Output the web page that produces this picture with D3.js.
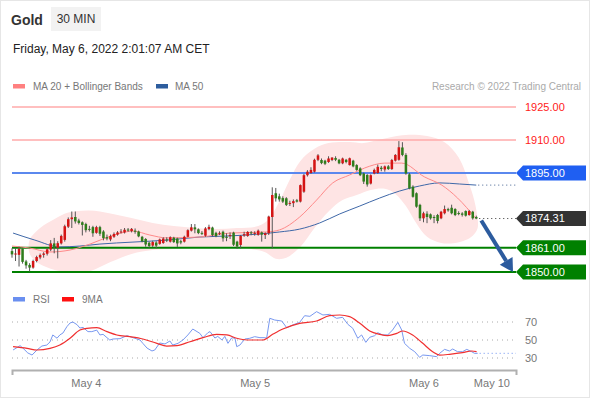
<!DOCTYPE html>
<html>
<head>
<meta charset="utf-8">
<script src="https://cdn.jsdelivr.net/npm/d3@7"></script>
<style>
  html, body { margin: 0; padding: 0; background: #fff; }
  svg { display: block; }
</style>
</head>
<body>
<script>
// ---------------- DATA ----------------
const opens = [1859.5,1858.0,1857.8,1860.6,1854.8,1853.2,1852.0,1855.0,1856.6,1857.8,
1858.3,1860.2,1863.0,1861.0,1863.0,1864.6,1870.6,1874.0,1875.0,1873.4,
1872.6,1871.8,1869.6,1870.4,1867.8,1870.4,1868.4,1865.8,1864.8,1866.0,
1867.0,1868.0,1868.0,1869.3,1868.6,1868.8,1868.4,1866.0,1865.0,1863.3,
1862.0,1863.4,1862.8,1863.2,1864.8,1863.8,1865.6,1865.2,1864.0,1863.8,
1866.0,1868.8,1870.3,1869.4,1867.8,1866.5,1869.5,1870.2,1867.8,1867.4,
1868.3,1866.0,1866.5,1867.9,1863.8,1862.3,1866.6,1866.4,1868.0,1867.4,
1866.9,1868.0,1866.8,1867.6,1875.0,1885.8,1884.4,1883.6,1883.5,1881.0,
1881.3,1882.6,1882.0,1886.5,1894.0,1895.0,1895.6,1901.0,1900.9,1900.6,
1900.0,1900.9,1901.8,1901.0,1899.4,1901.0,1898.6,1900.6,1898.6,1897.1,
1894.8,1894.1,1890.2,1894.8,1895.0,1897.4,1896.6,1898.0,1896.8,1900.6,
1901.0,1906.6,1903.2,1894.4,1888.8,1885.8,1880.5,1874.4,1876.5,1876.2,
1875.0,1875.9,1874.4,1876.7,1878.6,1879.2,1878.6,1876.8,1876.6,1877.7,
1875.9,1877.4,1875.0];
const highs = [1860.8,1861.0,1861.5,1861.0,1855.5,1854.0,1855.6,1857.4,1858.4,1859.0,
1861.0,1864.5,1865.5,1864.0,1867.0,1871.5,1874.8,1877.5,1877.5,1874.2,
1873.0,1872.4,1871.0,1871.0,1871.0,1871.0,1869.0,1867.0,1867.0,1868.0,
1868.6,1869.5,1870.0,1870.0,1870.0,1869.8,1868.8,1866.4,1865.4,1863.8,
1864.2,1864.0,1865.2,1865.8,1865.8,1866.2,1866.0,1865.6,1864.6,1866.5,
1869.4,1871.8,1871.8,1869.8,1868.6,1870.4,1871.5,1870.6,1868.3,1868.5,
1868.8,1867.6,1868.0,1868.3,1864.2,1866.8,1868.3,1868.6,1868.6,1868.5,
1869.3,1868.4,1868.0,1875.6,1888.5,1888.2,1885.6,1884.4,1884.0,1882.4,
1883.0,1883.2,1889.8,1894.6,1896.3,1897.6,1901.5,1903.6,1901.6,1901.0,
1902.6,1902.2,1902.6,1901.4,1902.0,1901.4,1902.0,1901.0,1899.0,1897.6,
1895.2,1894.5,1894.4,1897.0,1898.8,1898.2,1898.4,1898.6,1901.4,1903.6,
1909.5,1909.0,1904.0,1895.0,1889.4,1886.2,1881.0,1877.4,1877.6,1876.6,
1875.8,1876.4,1877.8,1880.2,1879.2,1880.6,1879.0,1877.6,1877.2,1878.0,
1878.2,1877.8,1875.6];
const lows = [1856.5,1855.0,1852.5,1853.8,1851.5,1850.2,1851.5,1854.4,1855.8,1856.5,
1857.5,1859.5,1858.5,1856.2,1862.5,1863.8,1870.0,1870.0,1872.0,1871.6,
1866.6,1868.0,1868.4,1866.0,1867.4,1866.4,1864.4,1864.4,1864.0,1865.5,
1866.5,1867.5,1867.5,1868.3,1868.0,1867.4,1865.8,1863.5,1861.5,1861.0,
1861.4,1860.8,1862.4,1862.8,1863.6,1863.4,1863.2,1861.4,1862.6,1863.4,
1865.8,1868.4,1867.6,1867.2,1866.8,1866.0,1869.0,1866.2,1865.8,1866.8,
1863.8,1864.0,1865.0,1861.8,1860.6,1860.8,1866.0,1866.0,1866.7,1866.5,
1866.5,1863.8,1865.0,1866.8,1860.8,1882.0,1882.0,1881.4,1880.0,1880.0,
1879.5,1881.6,1881.6,1886.0,1893.4,1894.6,1895.2,1900.4,1899.0,1898.6,
1899.6,1900.4,1900.4,1899.0,1899.0,1899.4,1898.4,1897.6,1896.0,1893.6,
1890.0,1888.8,1889.8,1894.4,1894.6,1895.8,1895.6,1896.4,1896.4,1900.2,
1900.6,1902.6,1894.2,1887.6,1883.8,1879.2,1873.2,1872.6,1872.2,1873.8,
1872.2,1872.1,1874.0,1876.2,1877.4,1876.2,1875.4,1875.8,1875.2,1875.2,
1875.6,1873.8,1874.0];
const closes = [1858.0,1858.4,1860.6,1854.6,1853.0,1852.0,1855.0,1856.8,1857.7,1858.4,
1860.3,1863.0,1861.2,1863.1,1866.4,1870.8,1874.0,1874.8,1873.0,1872.3,
1871.4,1869.0,1869.2,1867.6,1870.4,1867.4,1865.4,1865.2,1866.3,1867.3,
1868.0,1868.4,1869.2,1869.0,1869.6,1868.3,1866.2,1863.9,1862.5,1861.8,
1863.6,1862.0,1864.8,1865.2,1864.6,1865.8,1863.6,1863.0,1863.4,1866.0,
1869.0,1870.3,1869.4,1867.7,1867.5,1869.8,1870.5,1866.8,1866.3,1867.8,
1865.3,1865.5,1866.8,1862.4,1861.6,1866.4,1867.2,1868.2,1867.6,1867.8,
1868.8,1867.0,1867.6,1875.2,1885.0,1883.5,1883.0,1882.0,1880.5,1881.4,
1882.2,1882.0,1889.5,1894.0,1895.6,1896.4,1901.0,1903.0,1899.5,1899.2,
1901.6,1902.0,1901.0,1899.4,1901.6,1900.0,1901.7,1898.0,1896.4,1894.0,
1891.1,1889.8,1894.0,1896.4,1897.8,1896.8,1898.0,1896.8,1900.9,1903.2,
1906.7,1903.2,1894.8,1888.0,1884.2,1879.7,1874.4,1876.7,1875.0,1874.4,
1874.6,1873.2,1877.4,1878.6,1878.0,1876.7,1875.9,1876.4,1876.0,1875.6,
1877.7,1874.4,1874.31];

// indicator traces: [candle index, value]
const ma20 = [[0,1861.8],[5,1860.9],[10.8,1859.1],[16.5,1860.0],[22.2,1862.7],[27.3,1865.9],[31,1867.7],[34.4,1868.6],[39.2,1866.8],[44,1865.5],[53.4,1865.9],[62,1867.7],[72.4,1868.2],[76,1869.1],[81.8,1875.0],[86.6,1882.7],[91.2,1890.5],[96,1894.1],[100.3,1897.3],[106,1899.5],[110.8,1899.5],[117.3,1893.2],[122.2,1889.5],[126.7,1883.6],[131.8,1874.5]];
const ma50 = [[0.3,1867.7],[6.5,1864.5],[13.6,1861.4],[19.3,1861.8],[25,1862.7],[34.4,1863.6],[44,1864.5],[53.4,1865.9],[62,1866.4],[70.5,1867.3],[76.1,1868.2],[81.8,1869.5],[87.5,1872.3],[93.2,1876.4],[98.9,1880.0],[104.5,1883.6],[110.2,1886.8],[115.9,1889.1],[121.6,1890.5],[127.3,1890.0],[132,1889.5]];
const bbUpper = [[5,1864.5],[8,1870.0],[12,1874.0],[16,1877.0],[22,1878.0],[28,1876.6],[34,1874.5],[40,1872.3],[46,1870.9],[52,1870.0],[58,1869.5],[64,1870.0],[70,1870.9],[73,1874.0],[76,1882.0],[79,1892.0],[82,1900.5],[86,1906.0],[90,1908.6],[96,1909.1],[100,1908.6],[104,1910.0],[108,1911.4],[112,1912.3],[118,1911.8],[123,1909.0],[127,1902.0],[130,1890.0],[131.8,1880.0]];
const bbLower = [[132.4,1870.0],[131,1866.5],[129,1864.5],[126,1863.2],[122,1863.2],[118,1866.0],[115,1872.0],[112,1880.0],[109,1885.5],[106,1887.8],[102,1887.3],[98,1885.0],[94,1882.7],[90,1877.5],[86,1870.0],[82,1861.5],[78,1856.5],[75,1856.0],[72,1859.0],[68,1860.5],[64,1861.4],[58,1861.4],[52,1860.9],[46,1860.5],[40,1860.0],[34,1858.2],[28,1854.5],[22,1850.3],[16,1850.0],[11,1851.5],[7,1854.5],[5,1858.5]];

const rsi = [[0.3,38.9],[2.3,43.7],[3.1,41],[4.5,35.6],[5.7,33.3],[7.1,38.9],[8.5,43.3],[9.9,44.4],[10.8,47.8],[11.6,55.6],[12.8,52],[13.6,55.6],[14.5,57.8],[15.6,64.8],[16.5,68.9],[17.3,70],[18.5,67],[19.3,63.3],[20.2,64],[21.6,59.3],[22.7,59.3],[24.1,61],[25,55.6],[25.9,56.3],[27,52.6],[27.8,50],[28.7,51.1],[30.7,51.5],[32.7,54.8],[34.4,52.6],[36.4,50],[37.2,46.3],[38.4,41],[39.8,37.8],[40.6,38.9],[42,46.7],[43.5,45.6],[44.9,48.9],[45.7,44.4],[47.2,46.3],[48.6,50],[50,55.6],[51.4,62.2],[53.4,57.4],[54.3,52.6],[55.7,58.1],[56.3,59.3],[57.7,52.2],[58.5,54],[59.7,50],[60.5,54],[61.4,46.3],[62.5,52.6],[63.4,51.9],[63.9,42.6],[64.8,44.4],[66.2,51.1],[67.6,51.9],[69,53.7],[70.5,52.6],[71.9,52.6],[72.4,51.9],[73.3,74.1],[74.7,72.2],[76.7,71.1],[78.1,63.7],[79.8,66.7],[81.8,69.6],[83.2,77],[84.7,76.3],[86.6,81.5],[88.4,77.8],[90.3,78.5],[92.3,74.1],[94,75.2],[95.5,67.4],[96.9,63],[98.3,51.9],[99.4,55.6],[100.6,47.4],[101.7,53],[103.1,54.8],[104,58.1],[105.4,55.6],[106.8,55.6],[108.2,61.1],[109.7,69.6],[110.8,61.1],[111.6,46.3],[113.1,40.7],[114.5,37],[115.9,30.7],[116.8,33.3],[118.8,32.6],[120.7,31.5],[121.6,35.2],[123,39.6],[124.4,37.8],[125.3,40],[126.7,37],[128.1,37],[129.3,39.6],[130.7,37],[131.5,35.2],[132.4,35.2]];
const rsiMA9 = [[0.3,42.6],[4.3,40.7],[7.1,38.9],[10.8,40.7],[13.6,44.4],[16.5,51.9],[19.3,61.1],[21.3,63],[24.1,63.7],[27,59.3],[29.8,55.6],[33.5,53.7],[37.2,51.1],[41.2,46.3],[44,43.3],[46.9,43.8],[50.6,48.1],[54.3,52.6],[58.2,56.3],[61.1,55.6],[63.9,51.9],[66.8,50],[71.3,50],[74.1,56.3],[77,62.2],[81.8,68.5],[86.6,71.1],[90.3,77],[93.2,77.8],[96,75.9],[98.9,68.5],[101.7,60],[104.5,56.3],[106.8,54.8],[109.4,57.4],[111.1,60],[113.9,55.6],[116.8,46.3],[119.6,37],[121.6,33.3],[124.4,34.1],[128.1,35.9],[130.7,37.8],[132.1,37]];

const resistances = [1925, 1910];
const pivot = 1895;
const supports = [1861, 1850];
const lastPrice = 1874.31;
const target = 1850;
const rsiLevels = [70, 50, 30];
const tickLabels = ["May 4", "May 5", "May 6", "May 10"];
const tickIndex = [21, 69, 117, 136.3];

// ---------------- DRAW ----------------
const font = "'Liberation Sans', Arial, Helvetica, sans-serif";
const svg = d3.select("body").append("svg")
  .attr("width", 590).attr("height", 400)
  .style("font-family", font);

svg.append("rect").attr("x", 0.5).attr("y", 0.5).attr("width", 589).attr("height", 397)
  .attr("fill", "#fff").attr("stroke", "#e6e6e6");

// header
svg.append("text").attr("x", 11).attr("y", 24.5).attr("font-size", 14).attr("font-weight", "bold")
  .attr("fill", "#333").text("Gold");
svg.append("rect").attr("x", 51).attr("y", 7).attr("width", 50).attr("height", 24).attr("fill", "#f2f2f2");
svg.append("text").attr("x", 76).attr("y", 23.3).attr("text-anchor", "middle").attr("font-size", 12)
  .attr("fill", "#333").text("30 MIN");
svg.append("text").attr("x", 13).attr("y", 53).attr("font-size", 12).attr("fill", "#222")
  .text("Friday, May 6, 2022 2:01:07 AM CET");

// legend
const leg = svg.append("g").attr("font-size", 10).attr("fill", "#777");
leg.append("rect").attr("x", 13).attr("y", 84).attr("width", 12).attr("height", 4.5).attr("fill", "#ff8080");
leg.append("text").attr("x", 33).attr("y", 89.5).text("MA 20 + Bollinger Bands");
leg.append("rect").attr("x", 156).attr("y", 84).attr("width", 12).attr("height", 4.5).attr("fill", "#2d5d9e");
leg.append("text").attr("x", 175).attr("y", 89.5).text("MA 50");
svg.append("text").attr("x", 581).attr("y", 89.5).attr("text-anchor", "end").attr("font-size", 10)
  .attr("fill", "#aaa").text("Research \u00A9 2022 Trading Central");

// scales
const x = d3.scaleLinear().domain([0, 143.3]).range([12, 516]);
const y = d3.scaleLinear().domain([1850, 1925]).range([272, 107]);
const yR = d3.scaleLinear().domain([30, 70]).range([358, 322]);
const xL = x.range()[0], xR = x.range()[1];

// bollinger band blob
const bandPts = bbUpper.concat(bbLower);
svg.append("path")
  .attr("d", d3.line().x(d => x(d[0])).y(d => y(d[1])).curve(d3.curveCatmullRomClosed.alpha(0.5))(bandPts))
  .attr("fill", "#fee4e4");

// horizontal levels
resistances.forEach(v => {
  svg.append("line").attr("x1", xL).attr("x2", xR).attr("y1", y(v)).attr("y2", y(v))
    .attr("stroke", "#ffaaaa").attr("stroke-width", 1.5);
  svg.append("text").attr("x", 525).attr("y", y(v)).attr("dy", "0.36em").attr("font-size", 11)
    .attr("fill", "#ff1a1a").text(v.toFixed(2));
});
svg.append("line").attr("x1", xL).attr("x2", xR).attr("y1", y(pivot)).attr("y2", y(pivot))
  .attr("stroke", "#5b88ee").attr("stroke-width", 2);
supports.forEach(v => {
  svg.append("line").attr("x1", xL).attr("x2", xR).attr("y1", y(v)).attr("y2", y(v))
    .attr("stroke", "#008000").attr("stroke-width", 2);
});

// moving averages
const lineGen = d3.line().x(d => x(d[0])).y(d => y(d[1])).curve(d3.curveMonotoneX);
svg.append("path").attr("d", lineGen(ma50)).attr("fill", "none").attr("stroke", "#3f68a8").attr("stroke-width", 1);
svg.append("path").attr("d", lineGen(ma20)).attr("fill", "none").attr("stroke", "#ff8a8a").attr("stroke-width", 1);

// dotted extensions
const lastMA50 = ma50[ma50.length - 1];
svg.append("line").attr("x1", x(lastMA50[0]) + 2).attr("x2", xR).attr("y1", y(lastMA50[1])).attr("y2", y(lastMA50[1]))
  .attr("stroke", "#3f5f90").attr("stroke-dasharray", "1,3");
const n = closes.length;
svg.append("line").attr("x1", x(n - 1) + 3).attr("x2", xR).attr("y1", y(lastPrice)).attr("y2", y(lastPrice))
  .attr("stroke", "#333").attr("stroke-dasharray", "1,3");

// candles
const bw = (x(1) - x(0)) * 0.72;
const cg = svg.append("g");
d3.range(n).forEach(i => {
  const o = opens[i], c = closes[i];
  const up = c >= o;
  cg.append("line").attr("x1", x(i)).attr("x2", x(i)).attr("y1", y(highs[i])).attr("y2", y(lows[i]))
    .attr("stroke", "#555").attr("stroke-width", 1);
  const top = y(Math.max(o, c)), bot = y(Math.min(o, c));
  cg.append("rect").attr("x", x(i) - bw / 2).attr("y", top).attr("width", bw)
    .attr("height", Math.max(1, bot - top))
    .attr("fill", up ? "#d41414" : "#2f7d1c");
});

// forecast arrow
const ax0 = x(n - 1) + 5, ay0 = y(lastPrice) + 2;
const ax1 = xR - 3, ay1 = y(target);
const ang = Math.atan2(ay1 - ay0, ax1 - ax0);
const headL = 13, headW = 7.5;
const bx = ax1 - headL * Math.cos(ang), by = ay1 - headL * Math.sin(ang);
svg.append("line").attr("x1", ax0).attr("y1", ay0).attr("x2", bx).attr("y2", by)
  .attr("stroke", "#2c5b9e").attr("stroke-width", 4);
svg.append("path").attr("d", d3.line()([
  [ax1, ay1],
  [bx + headW * Math.sin(ang), by - headW * Math.cos(ang)],
  [bx - headW * Math.sin(ang), by + headW * Math.cos(ang)]
]) + "Z").attr("fill", "#2c5b9e");

// price label boxes
function tagBox(v, fill) {
  const yc = y(v), h = 7.5;
  svg.append("path").attr("d", d3.line()([[xR, yc], [xR + 7, yc - h], [586, yc - h], [586, yc + h], [xR + 7, yc + h]]) + "Z")
    .attr("fill", fill);
  svg.append("text").attr("x", 525).attr("y", yc).attr("dy", "0.36em").attr("font-size", 11)
    .attr("fill", "#fff").text(v.toFixed(2));
}
tagBox(pivot, "#1f5ff2");
tagBox(lastPrice, "#333333");
supports.forEach(v => tagBox(v, "#008000"));

// RSI panel
const rl = svg.append("g").attr("font-size", 10).attr("fill", "#777");
rl.append("rect").attr("x", 13).attr("y", 297).attr("width", 12).attr("height", 4.5).attr("fill", "#6a8ff0");
rl.append("text").attr("x", 33).attr("y", 302.5).text("RSI");
rl.append("rect").attr("x", 62).attr("y", 297).attr("width", 12).attr("height", 4.5).attr("fill", "#ff1010");
rl.append("text").attr("x", 82).attr("y", 302.5).text("9MA");

rsiLevels.forEach(v => {
  svg.append("line").attr("x1", xL).attr("x2", xR).attr("y1", yR(v)).attr("y2", yR(v))
    .attr("stroke", "#aaa").attr("stroke-dasharray", "1,4");
  svg.append("text").attr("x", 525).attr("y", yR(v)).attr("dy", "0.36em").attr("font-size", 11)
    .attr("fill", "#777").text(v);
});
const rsiLine = d3.line().x(d => x(d[0])).y(d => yR(d[1]));
svg.append("path").attr("d", rsiLine(rsi)).attr("fill", "none").attr("stroke", "#7898f0").attr("stroke-width", 1);
svg.append("path").attr("d", rsiLine.curve(d3.curveMonotoneX)(rsiMA9)).attr("fill", "none").attr("stroke", "#f03030").attr("stroke-width", 1.2);
const lastR = rsi[rsi.length - 1];
svg.append("line").attr("x1", x(lastR[0]) + 2).attr("x2", xR).attr("y1", yR(lastR[1])).attr("y2", yR(lastR[1]))
  .attr("stroke", "#6a8ff0").attr("stroke-dasharray", "1,3");

// x axis
const axis = d3.axisBottom(x).tickValues(tickIndex).tickFormat((d, i) => tickLabels[i])
  .tickSizeInner(0).tickSizeOuter(5).tickPadding(9);
const ag = svg.append("g").attr("transform", "translate(0,370)").call(axis);
ag.select(".domain").attr("stroke", "#b0b0b0").attr("stroke-width", 2);
ag.selectAll("text").attr("font-size", 11).attr("fill", "#777").attr("font-family", font);
</script>
</body>
</html>
